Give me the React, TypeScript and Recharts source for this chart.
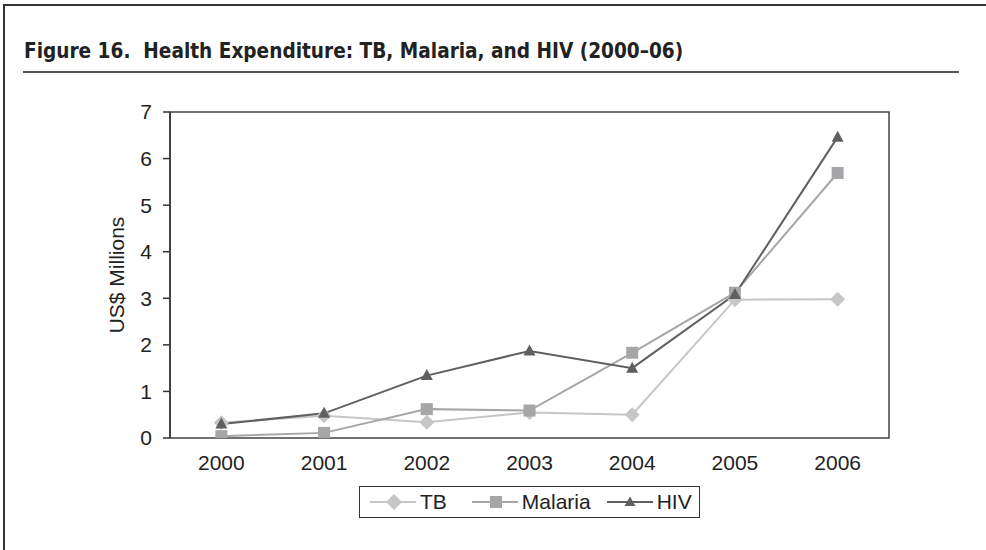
import React from "react";
import { LineChart, Line, XAxis, YAxis, ReferenceArea, Legend } from "recharts";

const years = ["2000", "2001", "2002", "2003", "2004", "2005", "2006"];
const tbValues = [0.33, 0.48, 0.34, 0.55, 0.5, 2.97, 2.98];
const malariaValues = [0.04, 0.11, 0.62, 0.59, 1.83, 3.12, 5.69];
const hivValues = [0.3, 0.53, 1.34, 1.87, 1.5, 3.08, 6.46];
const yTicks = [0, 1, 2, 3, 4, 5, 6, 7];

const boundaryTicks = [0, 1, 2, 3, 4, 5, 6, 7];
const centerTicks = years.map((_, i) => i + 0.5);

const rows = years.map((y, i) => ({
  x: i + 0.5,
  year: y,
  TB: tbValues[i],
  Malaria: malariaValues[i],
  HIV: hivValues[i],
}));

const C_TB = "#c6c6c8";
const C_MAL = "#a6a6a9";
const C_HIV = "#5f5f61";
const FONT = "'Liberation Sans', Arial, Helvetica, sans-serif";

const Diamond = (p: any) => {
  const { cx, cy, fill } = p;
  if (cx == null || cy == null) return null;
  const r = 7.5;
  return <path d={`M${cx},${cy - r}L${cx + r},${cy}L${cx},${cy + r}L${cx - r},${cy}Z`} fill={fill} />;
};
const Square = (p: any) => {
  const { cx, cy, fill } = p;
  if (cx == null || cy == null) return null;
  const r = 6;
  return <rect x={cx - r} y={cy - r} width={2 * r} height={2 * r} fill={fill} />;
};
const Triangle = (p: any) => {
  const { cx, cy, fill } = p;
  if (cx == null || cy == null) return null;
  return <path d={`M${cx},${cy - 6.5}L${cx + 6},${cy + 4.5}L${cx - 6},${cy + 4.5}Z`} fill={fill} />;
};

const legendItems = [
  { name: "TB", color: C_TB, shape: "diamond", gapBefore: 10 },
  { name: "Malaria", color: C_MAL, shape: "square", gapBefore: 25 },
  { name: "HIV", color: C_HIV, shape: "triangle", gapBefore: 16 },
];

const LegendContent = () => (
  <div
    style={{
      border: "1.5px solid #333",
      height: 32,
      display: "flex",
      alignItems: "center",
      justifyContent: "flex-start",
      fontFamily: FONT,
      fontSize: 21,
      color: "#222",
      boxSizing: "border-box",
    }}
  >
    {legendItems.map((it) => (
      <div key={it.name} style={{ display: "flex", alignItems: "center", marginLeft: it.gapBefore }}>
        <svg width={46} height={20} style={{ marginRight: 4 }}>
          <line x1={0} y1={10} x2={46} y2={10} stroke={it.color} strokeWidth={2} />
          {it.shape === "diamond" && <path d="M24,2L32,10L24,18L16,10Z" fill={it.color} />}
          {it.shape === "square" && <rect x={18} y={4} width={12} height={12} fill={it.color} />}
          {it.shape === "triangle" && <path d="M23,4.5L28.5,14L17.5,14Z" fill={it.color} />}
        </svg>
        <span style={{ lineHeight: "20px" }}>{it.name}</span>
      </div>
    ))}
  </div>
);

export default function App() {
  return (
    <div style={{ position: "absolute", left: 0, top: 0, width: 986, height: 550, background: "#fff", overflow: "hidden" }}>
      <div style={{ position: "absolute", left: 3, top: 4, width: 983, height: 2, background: "#333" }} />
      <div style={{ position: "absolute", left: 3, top: 4, width: 2, height: 546, background: "#333" }} />
      <div
        style={{
          position: "absolute",
          left: 24,
          top: 39,
          fontFamily: "'DejaVu Sans Condensed', 'DejaVu Sans', sans-serif",
          fontStretch: "condensed",
          fontWeight: "bold",
          fontSize: 20.6,
          color: "#222",
          whiteSpace: "nowrap",
        }}
      >
        Figure 16.&nbsp; Health Expenditure: TB, Malaria, and HIV (2000–06)
      </div>
      <div style={{ position: "absolute", left: 23, top: 71, width: 936, height: 1.5, background: "#555" }} />
      <div style={{ position: "absolute", left: 0, top: 0 }}>
        <LineChart width={986} height={550} data={rows} margin={{ top: 112, right: 97, bottom: 82, left: 100 }}>
          <XAxis
            xAxisId="grid"
            type="number"
            dataKey="x"
            domain={[0, 7]}
            allowDataOverflow
            ticks={boundaryTicks}
            tickFormatter={() => ""}
            tickSize={7}
            height={0}
            stroke="#333"
            strokeWidth={1.5}
          />
          <XAxis
            xAxisId="lab"
            type="number"
            dataKey="x"
            domain={[0, 7]}
            allowDataOverflow
            ticks={centerTicks}
            tickFormatter={(v: number) => years[Math.floor(v)]}
            axisLine={false}
            tickLine={false}
            tickSize={7}
            tickMargin={10}
            height={30}
            tick={{ fill: "#222", fontSize: 21, fontFamily: FONT }}
          />
          <YAxis
            type="number"
            domain={[0, 7]}
            ticks={yTicks}
            allowDataOverflow
            width={70}
            tickSize={7}
            tickMargin={11}
            stroke="#333"
            strokeWidth={1.5}
            tick={{ fill: "#222", fontSize: 21, fontFamily: FONT }}
            label={{
              value: "US$ Millions",
              angle: -90,
              position: "insideLeft",
              offset: 17,
              style: { textAnchor: "middle", fill: "#222", fontSize: 21, fontFamily: FONT },
            }}
          />
          <ReferenceArea
            xAxisId="grid"
            x1={0}
            x2={7}
            y1={0}
            y2={7}
            fill="none"
            fillOpacity={0}
            stroke="#444"
            strokeWidth={1.5}
            ifOverflow="visible"
          />
          <Line xAxisId="grid" dataKey="TB" stroke={C_TB} strokeWidth={2} dot={<Diamond fill={C_TB} />} isAnimationActive={false} />
          <Line xAxisId="grid" dataKey="Malaria" stroke={C_MAL} strokeWidth={2} dot={<Square fill={C_MAL} />} isAnimationActive={false} />
          <Line xAxisId="grid" dataKey="HIV" stroke={C_HIV} strokeWidth={2} dot={<Triangle fill={C_HIV} />} isAnimationActive={false} />
          <Legend
            layout="horizontal"
            verticalAlign="middle"
            align="center"
            content={<LegendContent />}
            wrapperStyle={{ left: 359, top: 486, width: 341 }}
          />
        </LineChart>
      </div>
    </div>
  );
}
